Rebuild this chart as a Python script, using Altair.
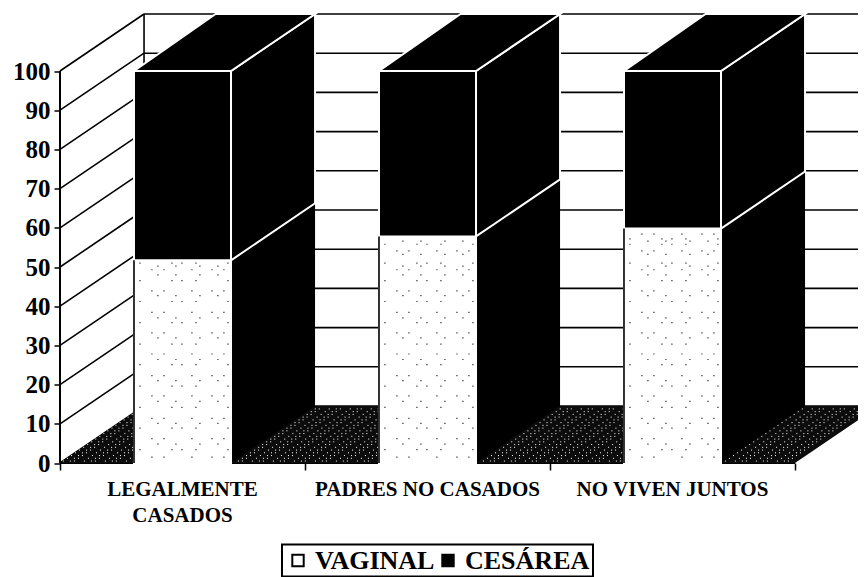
import altair as alt
import pandas as pd

categories = ["LEGALMENTE\nCASADOS", "PADRES NO CASADOS", "NO VIVEN JUNTOS"]
vaginal = [51.7, 57.8, 59.8]
cesarea = [48.3, 42.2, 40.2]
ticks = list(range(0, 101, 10))
x_ticks = [0, 1, 2, 3]
series_names = ["VAGINAL", "CESÁREA"]

# perspective of the 3-D box, in axis units
DEPTH_X = 0.343
DEPTH_Y = 14.54
BAR_HALF = 0.198
X_MAX = 798 / 245
Y_MAX = 449.5 / 3.92
LABEL_Y = -4.2

# stipple rows, in axis units
bar_rows_a = [1.5, 6.2, 11.4, 17.1, 22.3, 27.8, 33.2, 38.4, 43.9, 49.3, 54.1, 58.4]
bar_rows_b = [3.4, 8.9, 14.2, 19.6, 25.1, 30.3, 35.8, 41.2, 46.5, 51.0, 55.8, 57.2]
bar_rows_c = [4.8, 10.1, 15.7, 21.0, 26.4, 31.9, 37.0, 42.7, 48.0, 50.2, 53.2, 56.6]
floor_rows = [0.5, 1.2, 1.9, 2.6, 3.3, 4.0, 4.7, 5.4, 6.1, 6.8, 7.5, 8.2, 8.9, 9.6, 10.3, 11.0, 11.7, 12.4, 13.1, 13.8]

FONT = "Liberation Serif"
xs = alt.Scale(domain=[0, X_MAX], range=[0, 798], nice=False, zero=False)
ys = alt.Scale(domain=[0, Y_MAX], range=[449.5, 0], nice=False, zero=False)
x_axis = alt.Axis(values=x_ticks, labels=False, domain=False, grid=False,
                  tickSize=7, tickWidth=1.5, tickColor="black", title=None)
y_axis = alt.Axis(values=ticks, domain=False, grid=False, tickSize=6, tickWidth=1.5,
                  tickColor="black", labelFont=FONT, labelFontWeight="bold",
                  labelFontSize=25, labelColor="black", labelPadding=4, title=None)
X = lambda f="x": alt.X(f"{f}:Q", scale=xs, axis=x_axis)
Y = lambda f="y": alt.Y(f"{f}:Q", scale=ys, axis=y_axis)

# axes
axes_df = pd.DataFrame({"x": [0], "x2": [3], "y": [0]})
base_axis = alt.Chart(axes_df).mark_rule(stroke="black", strokeWidth=2).encode(x=X(), x2="x2:Q", y=Y())

y_axis_line = alt.Chart(pd.DataFrame({"y": [0], "y2": [100], "x": [0]})).mark_rule(
    stroke="black", strokeWidth=2).encode(x=X(), y=Y(), y2="y2:Q")

# walls
wall_rows = []
for t in ticks:
    wall_rows += [{"t": t, "x": 0, "y": t}, {"t": t, "x": DEPTH_X, "y": t + DEPTH_Y}]
left_wall = alt.Chart(pd.DataFrame(wall_rows)).mark_line(stroke="black", strokeWidth=1.6).encode(
    x=X(), y=Y(), detail="t:N")

back_df = pd.DataFrame([{"x": DEPTH_X, "x2": X_MAX, "y": t + DEPTH_Y} for t in ticks])
back_grid = alt.Chart(back_df).mark_rule(stroke="black", strokeWidth=1.6).encode(x=X(), x2="x2:Q", y=Y())
back_edge = alt.Chart(pd.DataFrame({"x": [DEPTH_X], "y": [DEPTH_Y], "y2": [100 + DEPTH_Y]})).mark_rule(
    stroke="black", strokeWidth=1.6).encode(x=X(), y=Y(), y2="y2:Q")

# floor
floor_df = pd.DataFrame({"y": [0, DEPTH_Y], "x": [0, DEPTH_X], "x2": [3, 3 + DEPTH_X]})
floor = alt.Chart(floor_df).mark_area(orient="horizontal", color="#0c0c0c", clip=True).encode(
    y=Y(), x=X(), x2="x2:Q")
floor_dots_df = pd.DataFrame([
    {"y": r, "x": r / DEPTH_Y * DEPTH_X, "x2": min(3 + r / DEPTH_Y * DEPTH_X, X_MAX)} for r in floor_rows
])
floor_dots = alt.Chart(floor_dots_df).mark_rule(
    stroke="white", strokeWidth=1, strokeDash=[1, 6, 1, 3, 1, 9]).encode(x=X(), x2="x2:Q", y=Y())

# boxes
centers = [i + 0.5 for i in range(len(categories))]
front_rows, lower_rows, upper_rows, top_rows, left_edges = [], [], [], [], []
for i, c in enumerate(centers):
    l, r = c - BAR_HALF, c + BAR_HALF
    v, ces = vaginal[i], cesarea[i]
    front_rows.append({"x": l, "x2": r, "y": 0, "y2": v, "parto": series_names[0]})
    front_rows.append({"x": l, "x2": r, "y": v, "y2": v + ces, "parto": series_names[1]})
    left_edges.append({"x": l, "y": 0, "y2": v})
    lower_rows.append({"k": i, "x": r, "y": 0, "y2": v})
    lower_rows.append({"k": i, "x": r + DEPTH_X, "y": DEPTH_Y, "y2": v + DEPTH_Y})
    upper_rows.append({"k": i, "x": r, "y": v, "y2": v + ces})
    upper_rows.append({"k": i, "x": r + DEPTH_X, "y": v + DEPTH_Y, "y2": v + ces + DEPTH_Y})
    top_rows.append({"k": i, "y": 100, "x": l, "x2": r})
    top_rows.append({"k": i, "y": 100 + DEPTH_Y, "x": l + DEPTH_X - 0.01, "x2": r + DEPTH_X})

sides_low = alt.Chart(pd.DataFrame(lower_rows)).mark_area(color="black").encode(
    x=X(), y=Y(), y2="y2:Q", detail="k:N")
sides_up = alt.Chart(pd.DataFrame(upper_rows)).mark_area(
    color="black", stroke="white", strokeWidth=2).encode(x=X(), y=Y(), y2="y2:Q", detail="k:N")
tops = alt.Chart(pd.DataFrame(top_rows)).mark_area(
    orient="horizontal", color="black", stroke="white", strokeWidth=2).encode(
    y=Y(), x=X(), x2="x2:Q", detail="k:N")
fronts = alt.Chart(pd.DataFrame(front_rows)).mark_bar(stroke="white", strokeWidth=2).encode(
    x=X(), x2="x2:Q", y=Y(), y2="y2:Q",
    fill=alt.Fill("parto:N", scale=alt.Scale(domain=series_names, range=["white", "black"]),
                  legend=alt.Legend(title=None, orient="none", legendX=222, legendY=531,
                                    direction="horizontal", symbolType="square", symbolSize=130,
                                    symbolStrokeColor="black", symbolStrokeWidth=2,
                                    labelFont=FONT, labelFontWeight="bold", labelFontSize=26,
                                    labelColor="black", strokeColor="black", padding=3,
                                    columnPadding=0, labelOffset=4, labelLimit=200,
                                    fillColor="white")),
)
left_lines = alt.Chart(pd.DataFrame(left_edges)).mark_rule(stroke="black", strokeWidth=1.6).encode(
    x=X(), y=Y(), y2="y2:Q")

# stipple of the vaginal faces
stipple_layers = []
for rows, dash, offset in [
    (bar_rows_a, [1, 19, 1, 11, 1, 27], 5),
    (bar_rows_b, [1, 13, 1, 31, 1, 9], 11),
    (bar_rows_c, [1, 23, 1, 17], 3),
]:
    d = []
    for i, c in enumerate(centers):
        for r in rows:
            if r < vaginal[i] - 0.6:
                d.append({"x": c - BAR_HALF + 0.01, "x2": c + BAR_HALF - 0.01, "y": r})
    stipple_layers.append(
        alt.Chart(pd.DataFrame(d)).mark_rule(
            stroke="black", strokeWidth=1.2, strokeDash=dash, strokeDashOffset=offset
        ).encode(x=X(), x2="x2:Q", y=Y())
    )

# category labels
labels = alt.Chart(pd.DataFrame({"x": centers, "y": [LABEL_Y] * 3, "t": categories})).mark_text(
    font=FONT, fontWeight="bold", fontSize=21, color="black", baseline="top", align="center",
    lineBreak="\n", lineHeight=26,
).encode(x=X(), y=Y(), text="t:N")

chart = alt.layer(
    base_axis, y_axis_line, left_wall, back_edge, back_grid, floor, floor_dots,
    sides_low, sides_up, tops, fronts, left_lines, *stipple_layers, labels,
).properties(
    width=798, height=449.5, background="white",
    autosize=alt.AutoSizeParams(type="none"),
    padding={"left": 52, "top": 5.5, "right": 0, "bottom": 114},
).configure_view(stroke=None).configure_legend(strokeWidth=2)

chart.save("out.html", embed_options={"renderer": "svg", "actions": False})
